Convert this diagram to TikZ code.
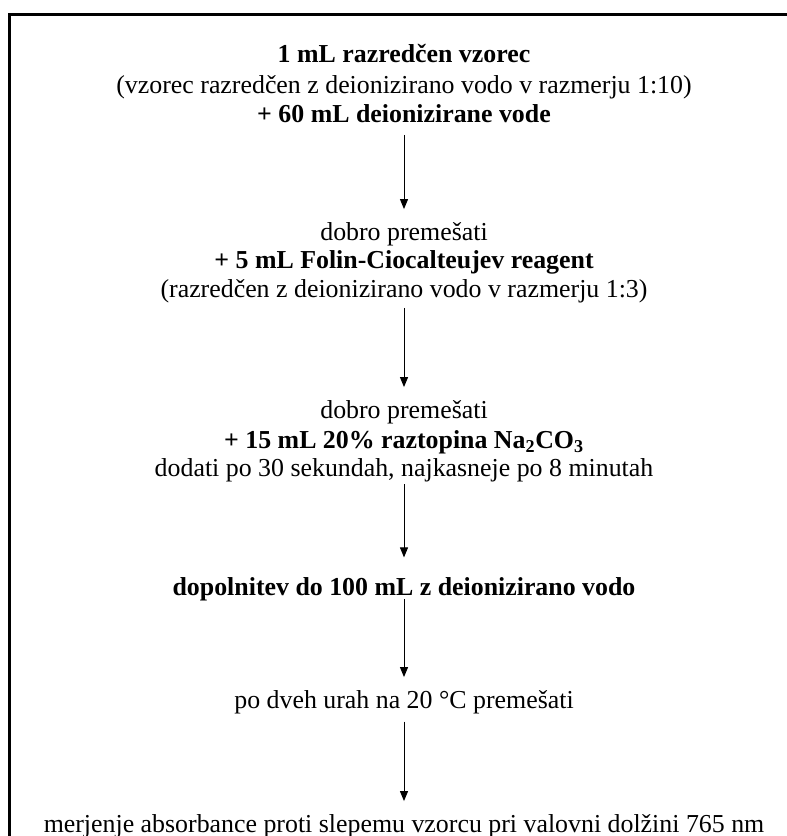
\documentclass[tikz,border=0pt]{standalone}
\usepackage{fontspec}
\setmainfont{Liberation Serif}
\usetikzlibrary{arrows.meta}

\begin{document}
\begin{tikzpicture}[x=0.75pt, y=-0.75pt,
    txt/.style={font=\fontsize{19.4}{23}\selectfont, anchor=base, inner sep=0pt,
                text height=23pt, text depth=6pt},
    btxt/.style={txt, font=\fontsize{19.4}{23}\selectfont\bfseries},
    flow/.style={-{Triangle[length=7.5pt, width=6pt]}, line width=0.75pt}]

\useasboundingbox (0,0) rectangle (787,836);

% Frame (top and left edge only)
\draw[line width=1.6pt] (787,14.5) -- (9.5,14.5) -- (9.5,836);

% Sample
\node[btxt] (s1a) at (404,62) {1 mL razredčen vzorec};
\node[txt]  (s1b) at (404,93) {(vzorec razredčen z deionizirano vodo v razmerju 1:10)};
\node[btxt] (s1c) at (404,122) {+ 60 mL deionizirane vode};

% Folin reagent
\node[txt]  (s2a) at (404,240) {dobro premešati};
\node[btxt] (s2b) at (404,268) {+ 5 mL Folin-Ciocalteujev reagent};
\node[txt]  (s2c) at (404,297) {(razredčen z deionizirano vodo v razmerju 1:3)};

% Sodium carbonate
\node[txt]  (s3a) at (404,418) {dobro premešati};
\node[btxt] (s3b) at (404,448) {+ 15 mL 20\% raztopina Na\textsubscript{2}CO\textsubscript{3}};
\node[txt]  (s3c) at (404,476) {dodati po 30 sekundah, najkasneje po 8 minutah};

% Fill up
\node[btxt] (s4) at (404,595) {dopolnitev do 100 mL z deionizirano vodo};

% Wait
\node[txt] (s5) at (404,708) {po dveh urah na 20 °C premešati};

% Measure
\node[txt] (s6) at (404,832) {merjenje absorbance proti slepemu vzorcu pri valovni dolžini 765 nm};

% Arrows
\draw[flow, shorten <=3.5pt] (s1c) -- (s2a);
\draw[flow, shorten <=2pt] (s2c) -- (s3a);
\draw[flow, shorten >=5pt] (s3c) -- (s4);
\draw[flow, shorten <=-3pt] (s4) -- (s5);
\draw[flow, shorten <=4pt] (s5) -- (s6);

\end{tikzpicture}
\end{document}
